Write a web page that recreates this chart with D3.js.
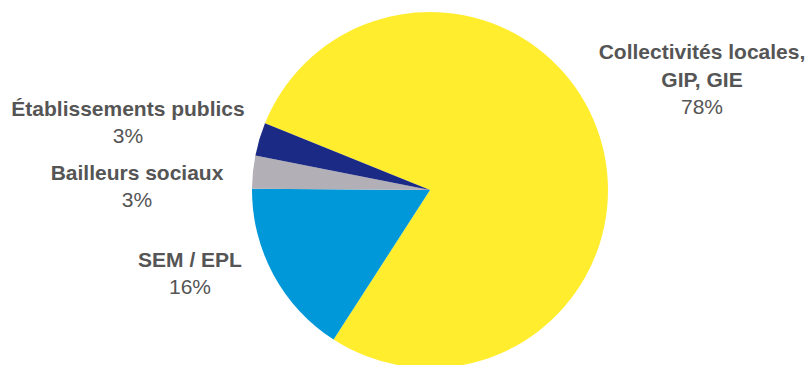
<!DOCTYPE html>
<html>
<head>
<meta charset="utf-8">
<script src="https://cdn.jsdelivr.net/npm/d3@7"></script>
<style>
  body { margin: 0; background: #fff; }
  text { font-family: "Liberation Sans", Arial, sans-serif; fill: #555555; font-size: 21px; }
  .name { font-weight: bold; }
</style>
</head>
<body>
<svg id="chart"></svg>
<script>
// data
const categories = ["Collectivités locales, GIP, GIE", "SEM / EPL", "Bailleurs sociaux", "Établissements publics"];
const shares = [78, 16, 3, 3];
const labelLines = [["Collectivités locales,", "GIP, GIE"], ["SEM / EPL"], ["Bailleurs sociaux"], ["Établissements publics"]];
const colors = ["#ffed2e", "#0098d8", "#b3afb6", "#1b2a85"];

const width = 810, height = 365;
const cx = 430, cy = 190, radius = 178;
const startDeg = -68;

// label anchors (centre x, first baseline y)
const labelPos = [[702, 59], [190, 267], [137, 180], [128, 116]];
const lineGap = 28;

const data = categories.map((c, i) => ({name: c, value: shares[i], lines: labelLines[i], color: colors[i], pos: labelPos[i]}));

const svg = d3.select("#chart")
    .attr("width", width)
    .attr("height", height);

const pie = d3.pie()
    .sort(null)
    .value(d => d.value)
    .startAngle(startDeg * Math.PI / 180)
    .endAngle((startDeg + 360) * Math.PI / 180);

const arc = d3.arc()
    .innerRadius(0)
    .outerRadius(radius);

const g = svg.append("g")
    .attr("transform", `translate(${cx},${cy})`);

g.selectAll("path")
    .data(pie(data))
  .join("path")
    .attr("d", arc)
    .attr("fill", d => d.data.color);

// labels
const labels = svg.selectAll("g.label")
    .data(data)
  .join("g")
    .attr("class", "label")
    .attr("transform", d => `translate(${d.pos[0]},${d.pos[1]})`);

labels.each(function(d) {
    const lg = d3.select(this);
    d.lines.forEach((line, i) => {
        lg.append("text")
            .attr("class", "name")
            .attr("text-anchor", "middle")
            .attr("y", i * lineGap)
            .text(line);
    });
    lg.append("text")
        .attr("text-anchor", "middle")
        .attr("y", d.lines.length * lineGap - 1)
        .text(d.value + "%");
});
</script>
</body>
</html>
